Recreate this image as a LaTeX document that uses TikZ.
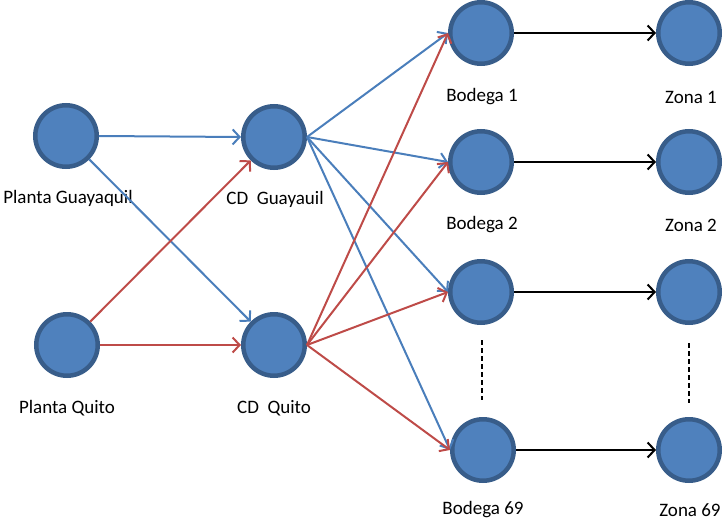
\documentclass[tikz,border=0pt]{standalone}
\usepackage{fontspec}
\setmainfont{Carlito}
\usepackage{xcolor}
\usetikzlibrary{arrows.meta}

\definecolor{sitefill}{RGB}{79,129,189}
\definecolor{siteborder}{RGB}{56,93,138}
\definecolor{flowblue}{RGB}{74,126,187}
\definecolor{flowred}{RGB}{190,75,72}

\begin{document}
\begin{tikzpicture}[
      x=1pt, y=-1pt,
      site/.style={circle, draw=siteborder, line width=4.5pt, fill=sitefill,
                   minimum size=61.5pt, inner sep=0pt},
      lbl/.style={font=\fontsize{19}{21}\selectfont},
      blueflow/.style={->, draw=flowblue, line width=2pt},
      redflow/.style={->, draw=flowred, line width=2pt},
      darkflow/.style={->, draw=black, line width=2pt},
      gap/.style={draw=black, line width=2.5pt, dash pattern=on 5pt off 3pt},
      >={Straight Barb[length=7pt, width=15pt]}
    ]
    \useasboundingbox (0,0) rectangle (723,522);

    % plantas y centros de distribucion
    \node[site] (pguay) at (66,136) {};
    \node[site] (pquito) at (67,345) {};
    \node[site] (cdguay) at (274,137) {};
    \node[site] (cdquito) at (274,345) {};

    % bodegas y zonas
    \node[site] (bod1) at (481,33) {};
    \node[site] (bod2) at (481,162) {};
    \node[site] (bod3) at (481,292) {};
    \node[site] (bod69) at (483,450) {};
    \node[site] (zona1) at (689,33) {};
    \node[site] (zona2) at (689,162) {};
    \node[site] (zona3) at (689,292) {};
    \node[site] (zona69) at (689,450) {};

    % etiquetas
    \node[lbl] (lpguay) at (68,198) {Planta Guayaquil};
    \node[lbl] (lpquito) at (67,408) {Planta Quito};
    \node[lbl] (lcdguay) at (275,199) {CD\ \ Guayauil};
    \node[lbl] (lcdquito) at (274,408) {CD\ \ Quito};
    \node[lbl] (lbod1) at (482,97) {Bodega 1};
    \node[lbl] (lbod2) at (482,225) {Bodega 2};
    \node[lbl] (lbod69) at (483,510) {Bodega 69};
    \node[lbl] (lzona1) at (691,97) {Zona 1};
    \node[lbl] (lzona2) at (691,225) {Zona 2};
    \node[lbl] (lzona69) at (690,510) {Zona 69};

    % puntos suspensivos
    \coordinate (dotsa) at (482,340);
    \coordinate (dotsb) at (482,400);
    \coordinate (dotsc) at (689,343);
    \coordinate (dotsd) at (689,403);
    \draw[gap] (dotsa) -- (dotsb);
    \draw[gap] (dotsc) -- (dotsd);

    % flujo desde Guayaquil
    \draw[blueflow] (pguay.east) -- (cdguay.west);
    \draw[blueflow] (pguay) -- (cdquito);
    \foreach \b in {bod1,bod2,bod3,bod69}
      \draw[blueflow] (cdguay.east) -- (\b.west);

    % flujo desde Quito
    \draw[redflow] (pquito) -- (cdguay);
    \draw[redflow] (pquito.east) -- (cdquito.west);
    \foreach \b in {bod1,bod2,bod3,bod69}
      \draw[redflow] (cdquito.east) -- (\b.west);

    % bodegas a zonas
    \draw[darkflow] (bod1.east) -- (zona1.west);
    \draw[darkflow] (bod2.east) -- (zona2.west);
    \draw[darkflow] (bod3.east) -- (zona3.west);
    \draw[darkflow] (bod69.east) -- (zona69.west);
  \end{tikzpicture}
\end{document}
